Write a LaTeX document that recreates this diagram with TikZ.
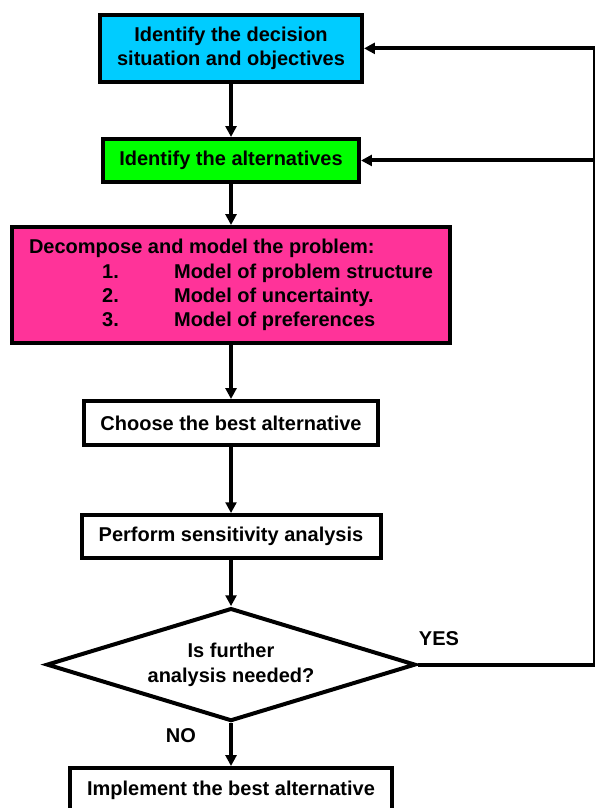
\documentclass[tikz,border=0pt]{standalone}
\usepackage{fontspec}
\setmainfont{Liberation Sans}
\usetikzlibrary{shapes.geometric,arrows.meta}
\definecolor{skyblue}{RGB}{0,204,255}
\definecolor{brightgreen}{RGB}{0,255,0}
\definecolor{hotpink}{RGB}{255,51,153}
\newcommand{\flowfont}{\fontsize{20}{24.5}\selectfont\bfseries}

\begin{document}
\begin{tikzpicture}[line width=4pt, >={Triangle[length=0.38cm,width=0.38cm]},
  box/.style = {draw, line width=4pt, font=\flowfont, align=center},
  decision/.style = {diamond, draw, line width=4pt, aspect=3.2, inner sep=0pt,
    minimum width=12.97cm, minimum height=3.97cm, font=\flowfont, align=center}]
\useasboundingbox (0,0) rectangle (20.91cm,-28.40cm);
\node [box, fill=skyblue, minimum width=9.21cm, minimum height=2.36cm] (ident) at (8.12cm,-1.70cm) {Identify the decision\\situation and objectives};
\node [box, fill=brightgreen, minimum width=9.0cm, minimum height=1.51cm] (alt) at (8.12cm,-5.64cm) {Identify the alternatives};
\node [box, fill=hotpink, minimum width=15.41cm, minimum height=4.08cm, align=left] (model) at (8.12cm,-10.02cm) {Decompose and model the problem:\\
  \hspace*{2.57cm}\makebox[2.53cm][l]{1.}Model of problem structure\\
  \hspace*{2.57cm}\makebox[2.53cm][l]{2.}Model of uncertainty.\\
  \hspace*{2.57cm}\makebox[2.53cm][l]{3.}Model of preferences};
\node [box, minimum width=10.30cm, minimum height=1.55cm] (choose) at (8.12cm,-14.87cm) {Choose the best alternative};
\node [box, minimum width=10.51cm, minimum height=1.51cm] (sens) at (8.12cm,-18.86cm) {Perform sensitivity analysis};
\node [decision] (check) at (8.12cm,-23.36cm) {Is further\\analysis needed?};
\node [box, minimum width=11.32cm, minimum height=1.55cm] (impl) at (8.12cm,-27.77cm) {Implement the best alternative};
\node [font=\flowfont] (yes) at (15.43cm,-22.46cm) {YES};
\node [font=\flowfont] (no) at (6.36cm,-25.87cm) {NO};
\coordinate (back) at (20.90cm,-23.36cm);
% main chain
\draw [->] (ident) -- (alt);
\draw [->] (alt) -- (model);
\draw [->] (model) -- (choose);
\draw [->] (choose) -- (sens);
\draw [->] (sens) -- (check);
\draw [->] (check) -- (impl);
% loop back
\draw [->] (check.east) -- (back) |- (ident.east);
\draw [->] (back |- alt.east) -- (alt.east);
\end{tikzpicture}
\end{document}
